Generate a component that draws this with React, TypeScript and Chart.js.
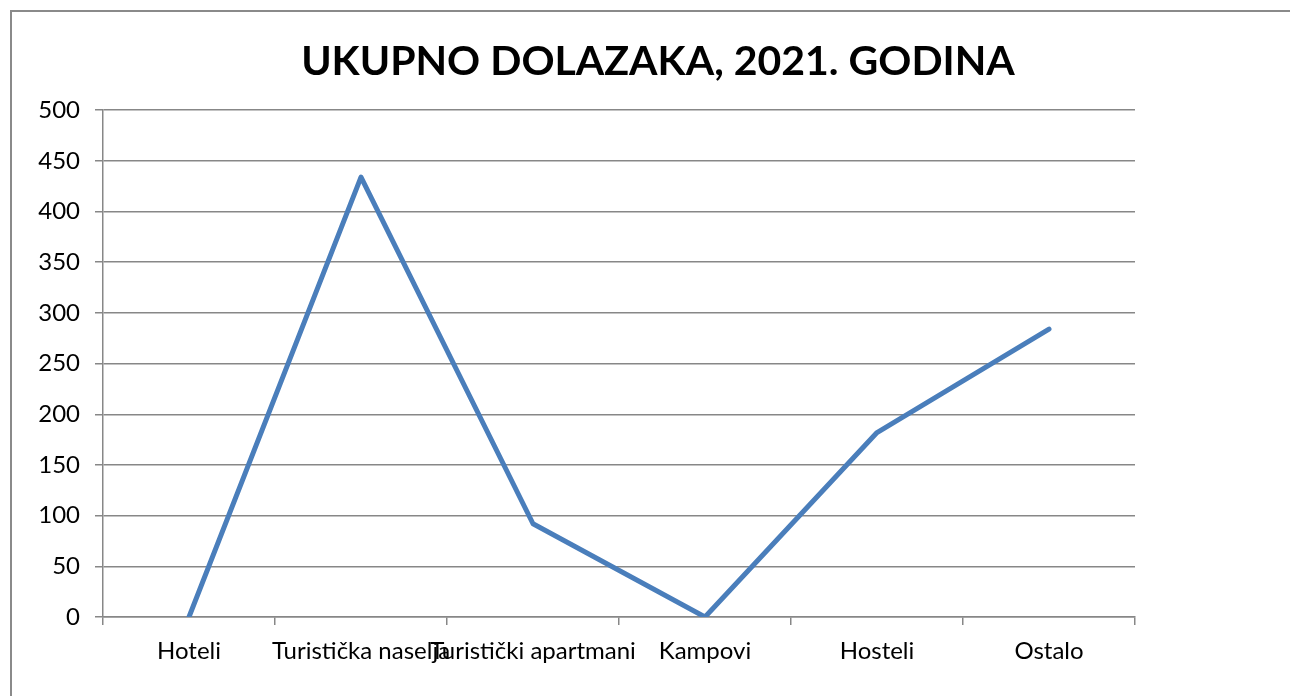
import React, { useEffect, useRef } from "react";
import { Chart, registerables } from "chart.js";

Chart.register(...registerables);

const TITLE = "UKUPNO DOLAZAKA, 2021. GODINA";
const categories = ["Hoteli", "Turistička naselja", "Turistički apartmani", "Kampovi", "Hosteli", "Ostalo"];
const dolasci = [0, 434, 92, 0, 182, 284];
const yTicks = [0, 50, 100, 150, 200, 250, 300, 350, 400, 450, 500];

const FONT = "Lato, 'Open Sans', sans-serif";
const GRID = "#878787";

export default function App() {
  const ref = useRef<HTMLCanvasElement | null>(null);

  useEffect(() => {
    if (!ref.current) return;
    const chart = new Chart(ref.current, {
      type: "line",
      data: {
        labels: categories,
        datasets: [
          {
            label: "Dolasci",
            data: dolasci,
            borderColor: "#4a7ebb",
            borderWidth: 5,
            pointRadius: 0,
            tension: 0,
            borderJoinStyle: "round",
            borderCapStyle: "round",
          },
        ],
      },
      options: {
        animation: false,
        responsive: false,
        maintainAspectRatio: false,
        layout: { padding: { left: 26, right: 0, top: 0, bottom: 0 } },
        plugins: {
          legend: { display: false },
          tooltip: { enabled: false },
          title: {
            display: true,
            text: TITLE,
            color: "#000",
            font: { family: FONT, size: 41, weight: "bold" },
            padding: { top: 37, bottom: 24 },
          },
        },
        scales: {
          x: {
            type: "category",
            offset: true,
            grid: {
              offset: true,
              drawOnChartArea: false,
              drawTicks: true,
              tickLength: 8,
              color: GRID,
              lineWidth: 1.5,
            },
            border: { display: true, color: GRID, width: 1.5 },
            ticks: {
              autoSkip: false,
              maxRotation: 0,
              minRotation: 0,
              color: "#000",
              padding: 12,
              font: { family: FONT, size: 24 },
            },
            afterFit: (s: any) => {
              s.height = 79;
            },
          },
          y: {
            min: 0,
            max: 500,
            afterBuildTicks: (s: any) => {
              s.ticks = yTicks.map((v) => ({ value: v }));
            },
            grid: {
              color: GRID,
              lineWidth: 1.5,
              drawTicks: true,
              tickLength: 8,
            },
            border: { display: true, color: GRID, width: 1.5 },
            ticks: {
              color: "#000",
              padding: 15,
              font: { family: FONT, size: 24 },
            },
            afterFit: (s: any) => {
              s.width = 77;
            },
          },
          yRight: {
            position: "right",
            display: true,
            min: 0,
            max: 500,
            grid: { display: false, drawTicks: false },
            border: { display: false },
            ticks: { display: false },
            afterFit: (s: any) => {
              s.width = 155;
            },
          },
        },
      },
    });
    return () => chart.destroy();
  }, []);

  return (
    <div
      style={{
        position: "fixed",
        left: 0,
        top: 0,
        width: 1290,
        height: 696,
        overflow: "hidden",
        background: "#fff",
      }}
    >
      <canvas ref={ref} width={1290} height={696} style={{ position: "absolute", left: 0, top: 0 }} />
      <div
        style={{
          position: "absolute",
          left: 10,
          top: 10,
          width: 1400,
          height: 900,
          border: "2px solid #8a8a8a",
          pointerEvents: "none",
        }}
      />
    </div>
  );
}
